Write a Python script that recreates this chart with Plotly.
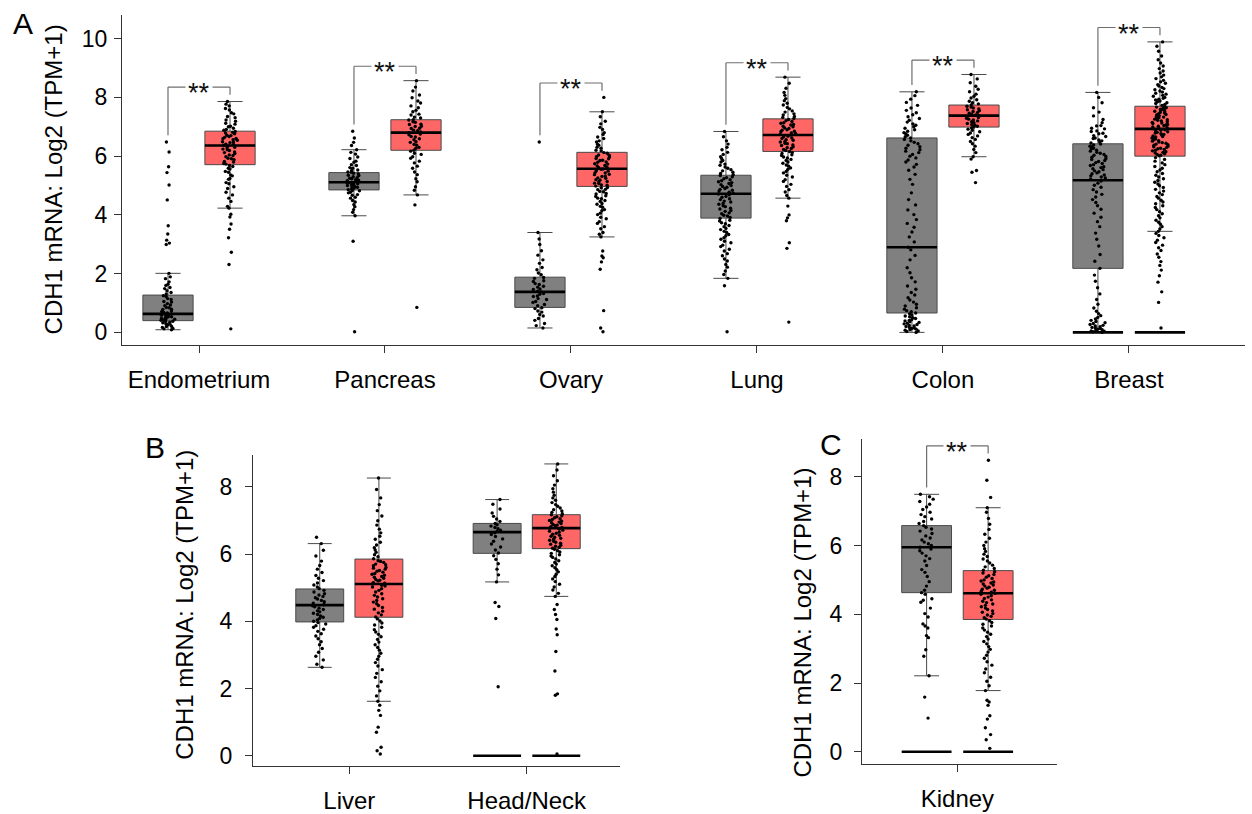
import plotly.graph_objects as go

FONT = "Liberation Sans, Arial, sans-serif"
W, H = 1252, 814

# ---------------- Panel A data ----------------
cats_a = ["Endometrium", "Pancreas", "Ovary", "Lung", "Colon", "Breast"]
a_norm_q1 = [0.40, 4.85, 0.85, 3.89, 0.66, 2.18]
a_norm_med = [0.63, 5.11, 1.38, 4.72, 2.90, 5.18]
a_norm_q3 = [1.27, 5.44, 1.88, 5.35, 6.62, 6.42]
a_norm_lo = [0.09, 3.97, 0.15, 1.84, 0.00, 0.00]
a_norm_hi = [2.01, 6.22, 3.40, 6.84, 8.19, 8.17]
a_tum_q1 = [5.71, 6.20, 4.97, 6.16, 6.99, 6.00]
a_tum_med = [6.36, 6.80, 5.57, 6.72, 7.38, 6.93]
a_tum_q3 = [6.85, 7.24, 6.13, 7.27, 7.74, 7.70]
a_tum_lo = [4.23, 4.68, 3.25, 4.57, 5.98, 3.44]
a_tum_hi = [7.86, 8.57, 7.51, 8.69, 8.78, 9.89]
a_zero_cats = ["Breast"]
a_signif = ["**", "**", "**", "**", "**", "**"]

endo_n = [0.09, 0.12, 0.13, 0.17, 0.2, 0.21, 0.26, 0.28, 0.29, 0.33, 0.34, 0.37, 0.38, 0.41, 0.42, 0.45,
          0.46, 0.47, 0.5, 0.52, 0.53, 0.55, 0.57, 0.58, 0.61, 0.62, 0.63, 0.66, 0.68, 0.7, 0.73, 0.78,
          0.79, 0.84, 0.85, 0.91, 0.93, 0.98, 1.03, 1.05, 1.12, 1.15, 1.22, 1.25, 1.31, 1.36, 1.42, 1.49,
          1.53, 1.6, 1.64, 1.72, 1.83, 1.89, 2.01, 2.99, 3.04, 3.14, 3.35, 3.63, 4.51, 5.02, 5.44, 5.64,
          6.14, 6.48]
endo_t = [0.12, 2.31, 2.73, 3.22, 3.51, 3.69, 3.93, 4.02, 4.23, 4.29, 4.46, 4.57, 4.68, 4.77, 4.9, 4.96,
          5.06, 5.1, 5.21, 5.24, 5.33, 5.36, 5.45, 5.48, 5.56, 5.59, 5.65, 5.68, 5.73, 5.75, 5.8, 5.82,
          5.88, 5.91, 5.93, 5.98, 6.02, 6.04, 6.09, 6.12, 6.14, 6.19, 6.22, 6.24, 6.29, 6.3, 6.35, 6.37,
          6.4, 6.41, 6.46, 6.48, 6.49, 6.54, 6.56, 6.59, 6.6, 6.64, 6.67, 6.7, 6.71, 6.76, 6.79, 6.81,
          6.84, 6.88, 6.91, 6.95, 7.0, 7.02, 7.09, 7.12, 7.19, 7.23, 7.31, 7.35, 7.44, 7.48, 7.57, 7.62,
          7.71, 7.77, 7.86]
panc_n = [0.02, 3.1, 3.97, 4.09, 4.18, 4.28, 4.35, 4.44, 4.49, 4.57, 4.6, 4.67, 4.69, 4.75, 4.77, 4.82,
          4.83, 4.86, 4.89, 4.91, 4.94, 4.96, 4.98, 5.0, 5.02, 5.04, 5.06, 5.08, 5.1, 5.11, 5.14, 5.16,
          5.18, 5.2, 5.23, 5.25, 5.27, 5.3, 5.34, 5.35, 5.39, 5.42, 5.45, 5.46, 5.51, 5.53, 5.59, 5.61,
          5.68, 5.71, 5.79, 5.83, 5.92, 5.97, 6.07, 6.13, 6.22, 6.36, 6.47, 6.62, 6.85]
panc_t = [0.85, 4.34, 4.68, 4.84, 4.96, 5.13, 5.23, 5.37, 5.46, 5.59, 5.66, 5.77, 5.83, 5.93, 5.98, 6.06,
          6.1, 6.17, 6.2, 6.27, 6.3, 6.37, 6.4, 6.47, 6.49, 6.56, 6.59, 6.65, 6.67, 6.73, 6.75, 6.8, 6.82,
          6.87, 6.88, 6.94, 6.95, 7.01, 7.02, 7.08, 7.09, 7.15, 7.17, 7.23, 7.24, 7.3, 7.33, 7.4, 7.43,
          7.51, 7.56, 7.65, 7.71, 7.81, 7.88, 7.99, 8.08, 8.22, 8.35, 8.57]
ovary_n = [0.15, 0.23, 0.3, 0.41, 0.47, 0.56, 0.61, 0.69, 0.73, 0.81, 0.84, 0.91, 0.95, 1.02, 1.05, 1.12,
           1.15, 1.22, 1.24, 1.3, 1.32, 1.38, 1.4, 1.46, 1.48, 1.54, 1.57, 1.63, 1.66, 1.73, 1.76, 1.84,
           1.87, 1.96, 2.02, 2.13, 2.21, 2.35, 2.47, 2.63, 2.78, 2.99, 3.18, 3.4, 6.48]
ovary_t = [0.02, 0.15, 0.74, 2.15, 2.4, 2.54, 2.6, 2.77, 3.25, 3.34, 3.4, 3.53, 3.6, 3.71, 3.77, 3.87,
           3.92, 4.01, 4.06, 4.14, 4.18, 4.26, 4.29, 4.36, 4.39, 4.46, 4.49, 4.55, 4.57, 4.63, 4.65, 4.71,
           4.73, 4.79, 4.8, 4.86, 4.87, 4.92, 4.93, 4.98, 5.01, 5.02, 5.07, 5.08, 5.13, 5.14, 5.19, 5.2,
           5.25, 5.26, 5.31, 5.32, 5.37, 5.38, 5.43, 5.44, 5.49, 5.5, 5.55, 5.56, 5.61, 5.62, 5.67, 5.68,
           5.73, 5.74, 5.79, 5.8, 5.85, 5.86, 5.91, 5.92, 5.97, 5.98, 6.03, 6.04, 6.1, 6.12, 6.18, 6.2,
           6.27, 6.3, 6.37, 6.4, 6.48, 6.52, 6.6, 6.65, 6.74, 6.8, 6.91, 6.98, 7.1, 7.19, 7.34, 7.51, 8.0]
lung_n = [0.02, 1.59, 1.84, 1.97, 2.09, 2.22, 2.31, 2.43, 2.5, 2.61, 2.68, 2.77, 2.83, 2.92, 2.97, 3.05,
          3.1, 3.17, 3.22, 3.29, 3.33, 3.4, 3.44, 3.5, 3.54, 3.6, 3.64, 3.7, 3.73, 3.79, 3.82, 3.88, 3.91,
          3.96, 3.99, 4.04, 4.07, 4.12, 4.15, 4.2, 4.23, 4.28, 4.31, 4.36, 4.39, 4.44, 4.47, 4.52, 4.55,
          4.6, 4.63, 4.68, 4.71, 4.74, 4.77, 4.81, 4.84, 4.87, 4.9, 4.94, 4.97, 5.0, 5.03, 5.07, 5.1,
          5.13, 5.16, 5.2, 5.23, 5.27, 5.3, 5.34, 5.37, 5.41, 5.45, 5.5, 5.54, 5.59, 5.63, 5.69, 5.73,
          5.8, 5.85, 5.92, 5.98, 6.06, 6.13, 6.22, 6.3, 6.41, 6.52, 6.66, 6.84]
lung_t = [0.35, 2.86, 3.05, 3.8, 3.9, 4.0, 4.3, 4.57, 4.66, 4.78, 4.86, 4.97, 5.04, 5.14, 5.2, 5.29,
          5.35, 5.43, 5.48, 5.55, 5.6, 5.66, 5.7, 5.76, 5.8, 5.85, 5.89, 5.94, 5.97, 6.02, 6.05, 6.09,
          6.12, 6.16, 6.19, 6.23, 6.26, 6.29, 6.32, 6.36, 6.38, 6.42, 6.44, 6.48, 6.5, 6.54, 6.56, 6.6,
          6.62, 6.66, 6.68, 6.72, 6.74, 6.77, 6.79, 6.83, 6.85, 6.88, 6.9, 6.94, 6.96, 7.0, 7.02, 7.06,
          7.08, 7.12, 7.14, 7.18, 7.21, 7.25, 7.28, 7.32, 7.35, 7.4, 7.44, 7.5, 7.54, 7.61, 7.66, 7.74,
          7.8, 7.89, 7.96, 8.07, 8.17, 8.31, 8.48, 8.69]
colon_n = [0.0, 0.03, 0.05, 0.07, 0.09, 0.11, 0.13, 0.15, 0.17, 0.2, 0.22, 0.24, 0.27, 0.29, 0.31, 0.34,
           0.36, 0.39, 0.41, 0.44, 0.47, 0.5, 0.53, 0.56, 0.59, 0.63, 0.66, 0.7, 0.74, 0.79, 0.84, 0.9,
           0.96, 1.03, 1.1, 1.18, 1.27, 1.36, 1.47, 1.58, 1.72, 1.86, 2.03, 2.2, 2.47, 2.62, 2.81, 2.9,
           3.08, 3.25, 3.42, 3.58, 3.71, 3.84, 4.01, 4.17, 4.34, 4.52, 4.75, 5.04, 5.21, 5.38, 5.52,
           5.63, 5.72, 5.8, 5.87, 5.94, 6.0, 6.06, 6.12, 6.17, 6.22, 6.27, 6.32, 6.37, 6.42, 6.47, 6.52,
           6.57, 6.62, 6.66, 6.71, 6.76, 6.8, 6.85, 6.9, 6.95, 7.0, 7.05, 7.1, 7.16, 7.22, 7.28, 7.34,
           7.41, 7.48, 7.56, 7.64, 7.73, 7.83, 7.94, 8.06, 8.19]
colon_t = [5.1, 5.45, 5.51, 5.9, 5.98, 6.12, 6.23, 6.34, 6.42, 6.5, 6.57, 6.63, 6.69, 6.74, 6.79, 6.83,
           6.88, 6.92, 6.96, 6.99, 7.02, 7.05, 7.08, 7.11, 7.14, 7.17, 7.2, 7.23, 7.26, 7.29, 7.32, 7.35,
           7.38, 7.4, 7.43, 7.46, 7.49, 7.52, 7.55, 7.58, 7.61, 7.64, 7.67, 7.7, 7.74, 7.78, 7.82, 7.87,
           7.92, 7.98, 8.04, 8.11, 8.19, 8.28, 8.38, 8.5, 8.63, 8.78]
breast_n = [0.0, 0.02, 0.04, 0.05, 0.07, 0.09, 0.11, 0.13, 0.15, 0.17, 0.19, 0.22, 0.24, 0.27, 0.3, 0.33,
            0.37, 0.41, 0.46, 0.51, 0.57, 0.64, 0.72, 0.83, 0.96, 1.12, 1.31, 1.52, 1.74, 1.95, 2.18,
            2.42, 2.65, 2.94, 3.17, 3.38, 3.6, 3.77, 3.92, 4.06, 4.19, 4.31, 4.42, 4.52, 4.61, 4.7, 4.78,
            4.86, 4.94, 5.01, 5.08, 5.15, 5.22, 5.26, 5.29, 5.33, 5.36, 5.4, 5.43, 5.47, 5.5, 5.54, 5.57,
            5.61, 5.64, 5.68, 5.71, 5.75, 5.78, 5.82, 5.85, 5.89, 5.92, 5.96, 5.99, 6.03, 6.06, 6.1, 6.13,
            6.17, 6.2, 6.24, 6.27, 6.31, 6.34, 6.38, 6.41, 6.45, 6.48, 6.52, 6.55, 6.6, 6.62, 6.67, 6.7,
            6.76, 6.78, 6.84, 6.86, 6.93, 6.95, 7.03, 7.04, 7.14, 7.25, 7.37, 7.5, 7.65, 7.82, 8.0, 8.17]
breast_t = [0.15, 1.02, 1.38, 1.71, 1.93, 2.12, 2.28, 2.41, 2.56, 2.67, 2.79, 2.88, 2.97, 3.06, 3.14,
            3.22, 3.3, 3.37, 3.44, 3.52, 3.6, 3.68, 3.75, 3.82, 3.9, 3.97, 4.04, 4.11, 4.18, 4.25, 4.31,
            4.38, 4.44, 4.5, 4.57, 4.63, 4.69, 4.75, 4.81, 4.87, 4.93, 4.99, 5.05, 5.11, 5.17, 5.23, 5.29,
            5.35, 5.41, 5.47, 5.53, 5.59, 5.65, 5.71, 5.77, 5.83, 5.89, 5.95, 6.01, 6.03, 6.06, 6.08,
            6.11, 6.13, 6.15, 6.18, 6.2, 6.23, 6.25, 6.27, 6.3, 6.32, 6.34, 6.37, 6.39, 6.41, 6.44, 6.46,
            6.48, 6.51, 6.53, 6.55, 6.58, 6.6, 6.62, 6.65, 6.67, 6.69, 6.72, 6.74, 6.76, 6.79, 6.81, 6.83,
            6.86, 6.88, 6.9, 6.93, 6.95, 6.97, 6.99, 7.02, 7.04, 7.06, 7.08, 7.11, 7.13, 7.15, 7.17, 7.2,
            7.22, 7.24, 7.26, 7.29, 7.31, 7.33, 7.35, 7.38, 7.4, 7.42, 7.44, 7.47, 7.49, 7.51, 7.53, 7.56,
            7.58, 7.6, 7.62, 7.65, 7.67, 7.7, 7.73, 7.76, 7.79, 7.82, 7.85, 7.88, 7.91, 7.94, 7.97, 8.0,
            8.04, 8.07, 8.11, 8.14, 8.18, 8.22, 8.26, 8.3, 8.34, 8.39, 8.43, 8.48, 8.53, 8.58, 8.64, 8.7,
            8.76, 8.83, 8.9, 8.98, 9.07, 9.17, 9.28, 9.41, 9.57, 9.74, 9.89]

# ---------------- Panel B data ----------------
cats_b = ["Liver", "Head/Neck"]
b_norm_q1 = [3.98, 6.02]
b_norm_med = [4.48, 6.65]
b_norm_q3 = [4.96, 6.91]
b_norm_lo = [2.63, 5.17]
b_norm_hi = [6.31, 7.62]
b_tum_q1 = [4.12, 6.16]
b_tum_med = [5.11, 6.77]
b_tum_q3 = [5.85, 7.17]
b_tum_lo = [1.62, 4.74]
b_tum_hi = [8.26, 8.68]
b_zero_cats = ["Head/Neck"]
b_signif = ["", ""]

liver_n = [2.63, 2.72, 2.85, 2.96, 3.08, 3.19, 3.3, 3.39, 3.48, 3.56, 3.63, 3.7, 3.76, 3.82, 3.87, 3.92,
           3.96, 4.0, 4.04, 4.08, 4.12, 4.16, 4.2, 4.24, 4.28, 4.31, 4.35, 4.39, 4.43, 4.46, 4.5, 4.54,
           4.58, 4.62, 4.66, 4.7, 4.74, 4.78, 4.82, 4.87, 4.92, 4.97, 5.02, 5.08, 5.14, 5.21, 5.28, 5.36,
           5.45, 5.55, 5.66, 5.79, 5.94, 6.11, 6.31, 6.5]
liver_t = [0.05, 0.15, 0.25, 0.7, 0.85, 1.2, 1.35, 1.5, 1.62, 1.78, 1.93, 2.07, 2.2, 2.33, 2.45, 2.56,
           2.67, 2.77, 2.87, 2.96, 3.05, 3.14, 3.22, 3.3, 3.38, 3.46, 3.54, 3.61, 3.68, 3.75, 3.82, 3.89,
           3.95, 4.01, 4.07, 4.13, 4.19, 4.25, 4.3, 4.36, 4.41, 4.47, 4.52, 4.57, 4.62, 4.67, 4.72, 4.77,
           4.82, 4.87, 4.92, 4.97, 5.02, 5.05, 5.07, 5.11, 5.13, 5.15, 5.2, 5.22, 5.24, 5.28, 5.31, 5.33,
           5.37, 5.4, 5.42, 5.46, 5.49, 5.51, 5.55, 5.58, 5.6, 5.65, 5.68, 5.7, 5.75, 5.78, 5.8, 5.86,
           5.92, 5.98, 6.05, 6.12, 6.19, 6.27, 6.35, 6.44, 6.53, 6.63, 6.74, 6.86, 6.99, 7.13, 7.29, 7.47,
           7.67, 7.92, 8.26]
headneck_n = [2.05, 4.08, 4.44, 4.56, 5.17, 5.38, 5.55, 5.71, 5.84, 5.95, 6.03, 6.12, 6.21, 6.3, 6.38,
              6.45, 6.52, 6.58, 6.63, 6.67, 6.71, 6.75, 6.79, 6.83, 6.87, 6.91, 6.97, 7.04, 7.12, 7.22,
              7.34, 7.48, 7.62]
headneck_t = [0.05, 1.8, 1.84, 2.52, 3.1, 3.6, 3.77, 4.05, 4.2, 4.35, 4.5, 4.74, 4.83, 4.93, 5.02, 5.1,
              5.18, 5.26, 5.33, 5.4, 5.47, 5.53, 5.59, 5.65, 5.7, 5.75, 5.8, 5.85, 5.9, 5.94, 5.98, 6.02,
              6.06, 6.1, 6.14, 6.17, 6.2, 6.23, 6.26, 6.29, 6.32, 6.35, 6.38, 6.41, 6.44, 6.47, 6.5, 6.53,
              6.56, 6.59, 6.62, 6.65, 6.68, 6.71, 6.74, 6.77, 6.79, 6.81, 6.84, 6.86, 6.88, 6.91, 6.93,
              6.95, 6.98, 7.0, 7.03, 7.05, 7.08, 7.11, 7.14, 7.17, 7.2, 7.24, 7.28, 7.32, 7.37, 7.42, 7.47,
              7.53, 7.6, 7.67, 7.75, 7.84, 7.94, 8.05, 8.18, 8.33, 8.5, 8.68]

# ---------------- Panel C data ----------------
cats_c = ["Kidney"]
c_norm_q1 = [4.63]
c_norm_med = [5.95]
c_norm_q3 = [6.58]
c_norm_lo = [2.21]
c_norm_hi = [7.49]
c_tum_q1 = [3.85]
c_tum_med = [4.61]
c_tum_q3 = [5.27]
c_tum_lo = [1.78]
c_tum_hi = [7.10]
c_zero_cats = ["Kidney"]
c_signif = ["**"]

kidney_n = [0.98, 1.59, 2.21, 2.78, 2.97, 3.32, 3.38, 3.6, 3.66, 3.72, 3.92, 4.02, 4.18, 4.35, 4.41, 4.45,
            4.58, 4.63, 4.7, 4.82, 4.95, 5.1, 5.22, 5.3, 5.42, 5.55, 5.62, 5.7, 5.78, 5.85, 5.9, 5.95,
            6.0, 6.05, 6.1, 6.16, 6.22, 6.28, 6.35, 6.42, 6.48, 6.53, 6.58, 6.64, 6.7, 6.77, 6.84, 6.9,
            6.97, 7.05, 7.12, 7.2, 7.28, 7.35, 7.42, 7.49]
kidney_t = [0.1, 0.35, 0.5, 0.7, 0.95, 1.05, 1.35, 1.45, 1.5, 1.78, 1.92, 2.05, 2.17, 2.3, 2.41, 2.52,
            2.62, 2.72, 2.81, 2.9, 2.98, 3.06, 3.14, 3.21, 3.28, 3.35, 3.42, 3.48, 3.54, 3.6, 3.66, 3.71,
            3.76, 3.81, 3.86, 3.9, 3.94, 3.98, 4.02, 4.06, 4.1, 4.14, 4.18, 4.22, 4.26, 4.3, 4.34, 4.38,
            4.42, 4.46, 4.5, 4.54, 4.58, 4.61, 4.64, 4.67, 4.7, 4.73, 4.76, 4.79, 4.82, 4.85, 4.88, 4.91,
            4.94, 4.97, 5.0, 5.04, 5.08, 5.12, 5.16, 5.2, 5.24, 5.28, 5.33, 5.38, 5.43, 5.49, 5.55, 5.61,
            5.68, 5.75, 5.83, 5.91, 6.0, 6.1, 6.21, 6.33, 6.47, 6.62, 6.79, 6.97, 7.1, 7.4, 7.9, 8.48]

a_norm_pts = [endo_n, panc_n, ovary_n, lung_n, colon_n, breast_n]
a_tum_pts = [endo_t, panc_t, ovary_t, lung_t, colon_t, breast_t]
b_norm_pts = [liver_n, headneck_n]
b_tum_pts = [liver_t, headneck_t]
c_norm_pts = [kidney_n]
c_tum_pts = [kidney_t]

# ---------------- styling ----------------
NORM_FILL = "#808080"
TUM_FILL = "#ff6666"
BOX_LINE = "#4a4a4a"
AXIS_COL = "#333333"
BOXGAP = 0.333
BOXGROUPGAP = 0.19
JITTER = 0.32


def px_x(p):
    return p / W


def px_y(p):
    return 1 - p / H


fig = go.Figure()


def add_group(cats, q1, med, q3, lo, hi, pts_lists, fill, og, xa, ya, ag):
    common = dict(xaxis=xa, yaxis=ya, offsetgroup=og, alignmentgroup=ag,
                  showlegend=False, hoverinfo="skip")
    fig.add_trace(go.Box(x=cats, q1=q1, median=med, q3=q3, lowerfence=lo, upperfence=hi,
                         fillcolor=fill, line=dict(color=BOX_LINE, width=1),
                         whiskerwidth=0.5, boxpoints=False, **common))
    for c, pts in zip(cats, pts_lists):
        fig.add_trace(go.Box(x=[c] * len(pts), y=pts, boxpoints="all", jitter=JITTER, pointpos=0,
                             fillcolor="rgba(0,0,0,0)", line=dict(color="rgba(0,0,0,0)", width=0),
                             whiskerwidth=0, marker=dict(color="black", size=3.4), **common))
    fig.add_trace(go.Box(x=cats, q1=med, median=med, q3=med, lowerfence=med, upperfence=med,
                         fillcolor="rgba(0,0,0,0)", line=dict(color="black", width=2.6),
                         whiskerwidth=0, boxpoints=False, **common))


def add_zero(zcats, og, xa, ya, ag):
    z = [0.0] * len(zcats)
    fig.add_trace(go.Box(x=zcats, q1=z, median=z, q3=z, lowerfence=z, upperfence=z,
                         fillcolor="rgba(0,0,0,0)", line=dict(color="black", width=2.6),
                         whiskerwidth=0, boxpoints=False, xaxis=xa, yaxis=ya, offsetgroup=og,
                         alignmentgroup=ag, showlegend=False, hoverinfo="skip"))


def add_brackets(cats, signif, norm_pts, tum_pts, norm_hi, tum_hi, xref, yref, top_gap, leg_gap):
    off = 0.25 * (1 - BOXGAP)
    for i, s in enumerate(signif):
        if not s:
            continue
        nmax = max(max(norm_pts[i]), norm_hi[i])
        tmax = max(max(tum_pts[i]), tum_hi[i])
        ytop = max(nmax, tmax) + top_gap
        xl, xr = i - off, i + off
        ln = dict(color="#6e6e6e", width=1.2)
        fig.add_shape(type="line", xref=xref, yref=yref, x0=xl, x1=xl, y0=nmax + leg_gap, y1=ytop, line=ln)
        fig.add_shape(type="line", xref=xref, yref=yref, x0=xl, x1=xr, y0=ytop, y1=ytop, line=ln)
        fig.add_shape(type="line", xref=xref, yref=yref, x0=xr, x1=xr, y0=tmax + leg_gap, y1=ytop, line=ln)
        fig.add_annotation(x=i, y=ytop, xref=xref, yref=yref, text=s, showarrow=False,
                           xanchor="center", yanchor="middle",
                           font=dict(family=FONT, size=27, color="#111111"),
                           bgcolor="white", borderpad=2, yshift=-6)


# Panel A
add_group(cats_a, a_norm_q1, a_norm_med, a_norm_q3, a_norm_lo, a_norm_hi, a_norm_pts, NORM_FILL, "N", "x", "y", "A")
add_group(cats_a, a_tum_q1, a_tum_med, a_tum_q3, a_tum_lo, a_tum_hi, a_tum_pts, TUM_FILL, "T", "x", "y", "A")
add_zero(a_zero_cats, "N", "x", "y", "A")
add_zero(a_zero_cats, "T", "x", "y", "A")
add_brackets(cats_a, a_signif, a_norm_pts, a_tum_pts, a_norm_hi, a_tum_hi, "x", "y", 0.49, 0.23)

# Panel B
add_group(cats_b, b_norm_q1, b_norm_med, b_norm_q3, b_norm_lo, b_norm_hi, b_norm_pts, NORM_FILL, "N", "x2", "y2", "B")
add_group(cats_b, b_tum_q1, b_tum_med, b_tum_q3, b_tum_lo, b_tum_hi, b_tum_pts, TUM_FILL, "T", "x2", "y2", "B")
add_zero(b_zero_cats, "N", "x2", "y2", "B")
add_zero(b_zero_cats, "T", "x2", "y2", "B")

# Panel C
add_group(cats_c, c_norm_q1, c_norm_med, c_norm_q3, c_norm_lo, c_norm_hi, c_norm_pts, NORM_FILL, "N", "x3", "y3", "C")
add_group(cats_c, c_tum_q1, c_tum_med, c_tum_q3, c_tum_lo, c_tum_hi, c_tum_pts, TUM_FILL, "T", "x3", "y3", "C")
add_zero(c_zero_cats, "N", "x3", "y3", "C")
add_zero(c_zero_cats, "T", "x3", "y3", "C")
add_brackets(cats_c, c_signif, c_norm_pts, c_tum_pts, c_norm_hi, c_tum_hi, "x3", "y3", 0.42, 0.2)

tickfont = dict(family=FONT, size=23, color="black")
xfont = dict(family=FONT, size=24, color="black")


def yaxis_style(rng, dom, standoff, anchor):
    return dict(domain=dom, range=rng, showline=True, linecolor=AXIS_COL, linewidth=1,
                ticks="outside", ticklen=7, tickwidth=1, tickcolor=AXIS_COL, showgrid=False,
                zeroline=False, tickmode="array", tickvals=[0, 2, 4, 6, 8, 10], anchor=anchor,
                tickfont=tickfont, ticklabelstandoff=standoff, fixedrange=True)


def xaxis_style(rng, dom, anchor, cats):
    return dict(domain=dom, range=rng, type="category", categoryorder="array", categoryarray=cats,
                showline=True, linecolor=AXIS_COL, linewidth=1, ticks="outside", ticklen=7,
                tickwidth=1, tickcolor=AXIS_COL, showgrid=False, zeroline=False, anchor=anchor,
                tickfont=xfont, ticklabelstandoff=6, fixedrange=True)


fig.update_layout(
    width=W, height=H, margin=dict(l=0, r=0, t=0, b=0),
    paper_bgcolor="white", plot_bgcolor="white",
    boxmode="group", boxgap=BOXGAP, boxgroupgap=BOXGROUPGAP,
    font=dict(family=FONT, color="black"),
    showlegend=False,
    xaxis=xaxis_style([-0.414, 5.624], [px_x(122), px_x(1245)], "y", cats_a),
    yaxis=yaxis_style([-0.43, 10.81], [px_y(348), px_y(15)], 2, "x"),
    xaxis2=xaxis_style([-0.543, 1.526], [px_x(253), px_x(620)], "y2", cats_b),
    yaxis2=yaxis_style([-0.316, 8.944], [px_y(773), px_y(459)], 8, "x2"),
    xaxis3=xaxis_style([-0.517, 0.540], [px_x(862), px_x(1057)], "y3", cats_c),
    yaxis3=yaxis_style([-0.358, 9.094], [px_y(770.7), px_y(443)], 7, "x3"),
)

# axis titles and panel letters
ytitle = "CDH1 mRNA: Log2 (TPM+1)"
for xp, yp in [(53, 181), (185, 610), (803, 628)]:
    fig.add_annotation(x=px_x(xp), y=px_y(yp), xref="paper", yref="paper", text=ytitle,
                       xanchor="center", yanchor="middle",
                       textangle=-90, showarrow=False, font=dict(family=FONT, size=24, color="black"))
for letter, xp, yp in [("A", 23, 24), ("B", 155, 451), ("C", 831, 448)]:
    fig.add_annotation(x=px_x(xp), y=px_y(yp), xref="paper", yref="paper", text=letter,
                       xanchor="center", yanchor="middle",
                       showarrow=False, font=dict(family=FONT, size=30, color="black"))

fig.write_html("out.html")
